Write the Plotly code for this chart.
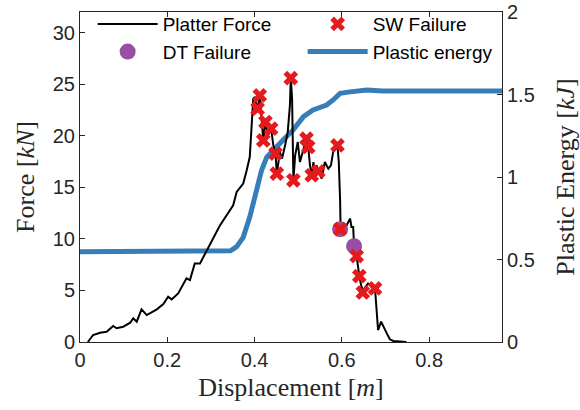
import plotly.graph_objects as go

# Platter force curve (displacement [m], force [kN])
disp_force = [0.018, 0.030, 0.046, 0.061, 0.076, 0.084, 0.099, 0.115, 0.122, 0.130, 0.141, 0.153,
              0.176, 0.191, 0.202, 0.210, 0.225, 0.229, 0.237, 0.244, 0.252, 0.263, 0.275, 0.290,
              0.305, 0.321, 0.336, 0.351, 0.359, 0.374, 0.382, 0.389, 0.397, 0.401, 0.405, 0.407,
              0.412, 0.416, 0.420, 0.425, 0.431, 0.438, 0.443, 0.448, 0.451, 0.458, 0.463, 0.470,
              0.476, 0.481, 0.483, 0.486, 0.489, 0.493, 0.499, 0.504, 0.512, 0.519, 0.523, 0.527,
              0.531, 0.535, 0.538, 0.542, 0.546, 0.554, 0.561, 0.569, 0.575, 0.580, 0.590, 0.593,
              0.596, 0.597, 0.603, 0.611, 0.619, 0.622, 0.626, 0.628, 0.634, 0.638, 0.640, 0.645,
              0.649, 0.660, 0.668, 0.676, 0.680, 0.683, 0.690, 0.695, 0.703, 0.710, 0.718, 0.748]
force = [0.0, 0.68, 0.90, 1.00, 1.55, 1.33, 1.48, 1.87, 2.29, 1.97, 3.17, 2.61,
         3.17, 3.68, 4.39, 4.13, 4.71, 5.03, 5.68, 6.17, 6.00, 7.62, 7.62, 8.91,
         10.04, 11.33, 12.29, 13.26, 14.55, 15.36, 16.65, 17.94, 23.59, 23.75, 22.78, 22.62,
         23.91, 21.90, 19.55, 21.33, 20.04, 20.69, 19.07, 18.27, 16.33, 18.42, 17.78, 19.07,
         20.36, 22.94, 25.59, 23.59, 15.68, 18.10, 19.39, 17.45, 18.75, 19.72, 18.91, 17.13,
         16.17, 17.45, 16.17, 17.13, 16.55, 15.85, 17.45, 16.81, 17.13, 18.42, 19.07, 17.45,
         13.75, 11.49, 11.16, 11.33, 11.97, 11.16, 11.16, 9.29, 8.33, 6.97, 6.39, 5.35,
         5.03, 5.68, 5.52, 5.20, 3.10, 1.16, 1.97, 1.48, 0.84, 0.26, 0.10, 0.0]

# Shear-wall (SW) failure events
sw_disp = [0.407, 0.412, 0.425, 0.438, 0.420, 0.448, 0.451, 0.483, 0.489, 0.519,
           0.523, 0.531, 0.546, 0.590, 0.596, 0.634, 0.640, 0.648, 0.676]
sw_force = [22.62, 23.91, 21.33, 20.69, 19.55, 18.27, 16.33, 25.59, 15.68, 19.72,
            18.91, 16.17, 16.55, 19.07, 10.94, 8.33, 6.39, 4.80, 5.20]

# Double-tee (DT) failure events
dt_disp = [0.596, 0.628]
dt_force = [10.94, 9.29]

# Plastic energy curve (displacement [m], energy [kJ])
disp_energy = [0.0, 0.328, 0.345, 0.359, 0.374, 0.389, 0.405, 0.416, 0.428, 0.443, 0.466,
               0.489, 0.512, 0.534, 0.565, 0.580, 0.596, 0.619, 0.657, 0.694, 0.967]
energy = [0.547, 0.547, 0.553, 0.578, 0.634, 0.757, 0.917, 1.04, 1.12, 1.166, 1.226,
          1.287, 1.366, 1.406, 1.436, 1.467, 1.507, 1.516, 1.527, 1.521, 1.521]

x_ticks = [0, 0.2, 0.4, 0.6, 0.8]
x_ticktext = ["0", "0.2", "0.4", "0.6", "0.8"]
force_ticks = [0, 5, 10, 15, 20, 25, 30]
energy_ticks = [0, 0.5, 1, 1.5, 2]
energy_ticktext = ["0", "0.5", "1", "1.5", "2"]

AX = "#262626"
SANS = "Liberation Sans, Arial, sans-serif"
SERIF = "Liberation Serif, Times New Roman, serif"

fig = go.Figure()
fig.add_trace(go.Scatter(x=disp_energy, y=energy, mode="lines", name="Plastic energy",
                         line=dict(color="#377EB8", width=5), yaxis="y", legendrank=4))
fig.add_trace(go.Scatter(x=disp_force, y=force, mode="lines", name="Platter Force",
                         line=dict(color="black", width=2), yaxis="y2", legendrank=1))
fig.add_trace(go.Scatter(x=dt_disp, y=dt_force, mode="markers", name="DT Failure",
                         marker=dict(color="#984EA3", size=16), yaxis="y2", legendrank=3))
fig.add_trace(go.Scatter(x=sw_disp, y=sw_force, mode="markers", name="SW Failure",
                         marker=dict(color="#E41A1C", size=13, symbol="x", line=dict(width=0)),
                         yaxis="y2", legendrank=2))

axis_common = dict(ticks="inside", ticklen=5, tickwidth=1, tickcolor=AX, showline=True,
                   linecolor=AX, linewidth=1, showgrid=False, zeroline=False, automargin=False,
                   tickfont=dict(family=SANS, size=20, color=AX))

fig.update_layout(
    width=580, height=410,
    margin=dict(l=80, r=78, t=12, b=68, autoexpand=False),
    paper_bgcolor="white", plot_bgcolor="white",
    xaxis=dict(range=[0, 0.967], tickvals=x_ticks, ticktext=x_ticktext, mirror="ticks",
               title=dict(text="Displacement [<i>m</i>]", font=dict(family=SERIF, size=26, color=AX),
                          standoff=7),
               **axis_common),
    yaxis=dict(range=[0, 2], tickvals=energy_ticks, ticktext=energy_ticktext, side="right",
               title=dict(text="Plastic Energy [<i>kJ</i>]", font=dict(family=SERIF, size=26, color=AX),
                          standoff=21),
               **axis_common),
    yaxis2=dict(range=[0, 32], tickvals=force_ticks, overlaying="y", side="left",
                title=dict(text="Force [<i>kN</i>]", font=dict(family=SERIF, size=26, color=AX),
                           standoff=10),
                **axis_common),
    legend=dict(x=0.03, y=1.021, xanchor="left", yanchor="top", orientation="h",
                bgcolor="rgba(255,255,255,0)", borderwidth=0, entrywidth=135, itemwidth=60,
                font=dict(family=SANS, size=19, color="black"), tracegroupgap=0),
    showlegend=True,
)

fig.write_html("out.html", config={"displayModeBar": False},
               post_script="document.body.style.margin='0';document.body.style.padding='0';")
